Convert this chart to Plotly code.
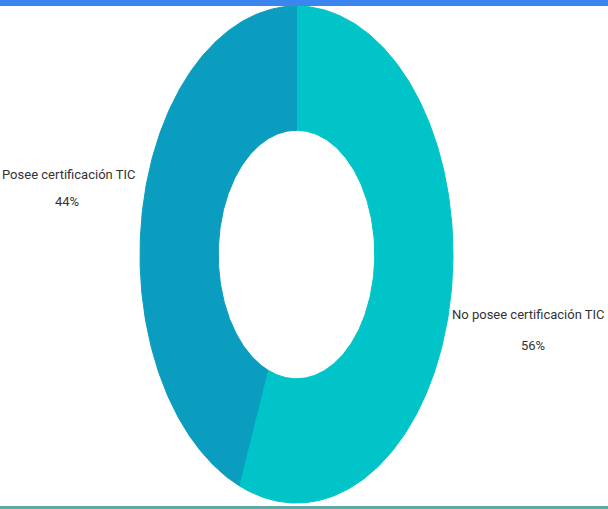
import numpy as np
import plotly.graph_objects as go

# Data
labels = ["No posee certificación TIC", "Posee certificación TIC"]
values = [56, 44]
colors = ["#00c4c8", "#0a9dbf"]

W, H = 608, 509
hole = 0.5

# Pixel geometry of the (horizontally squeezed) donut in the reference
cx_px, cy_px = 296.5, 254.5
rx_px, ry_px = 156.5, 248.5

fig = go.Figure()

total = sum(values)
cum = 0.0
for lab, val, col in zip(labels, values, colors):
    f0 = cum / total
    f1 = (cum + val) / total
    cum += val
    t = np.linspace(f0, f1, 200)
    theta = np.pi / 2 - 2 * np.pi * t
    xo, yo = np.cos(theta), np.sin(theta)
    xi, yi = hole * xo[::-1], hole * yo[::-1]
    xs = np.concatenate([xo, xi, xo[:1]])
    ys = np.concatenate([yo, yi, yo[:1]])
    fig.add_trace(go.Scatter(
        x=xs, y=ys, mode="lines", fill="toself",
        fillcolor=col, line=dict(color=col, width=1),
        name=lab, hoverinfo="name", showlegend=False,
    ))

# axis ranges so that unit radius maps to the ellipse in pixels
xr = [-cx_px / rx_px, (W - cx_px) / rx_px]
yr = [-(H - cy_px) / ry_px, cy_px / ry_px]

font_fam = "Roboto, Liberation Sans, sans-serif"
tcol = "#333333"
fs = 13

pct = [f"{round(v / total * 100)}%" for v in values]

def ann(text, px, py, xanchor="center"):
    return dict(text=text, x=px / W, y=1 - py / H, xref="paper", yref="paper",
                xanchor=xanchor, yanchor="middle", showarrow=False,
                font=dict(family=font_fam, size=fs, color=tcol))

annotations = [
    ann(labels[1], 68, 174),
    ann(pct[1], 67, 201),
    ann(labels[0], 607, 314, xanchor="right"),
    ann(pct[0], 533, 345),
]

shapes = [
    dict(type="rect", xref="paper", yref="paper", x0=0, x1=1, y0=1 - 6 / H, y1=1,
         fillcolor="#3a86ee", line=dict(width=0), layer="above"),
    dict(type="rect", xref="paper", yref="paper", x0=0, x1=1, y0=0, y1=3 / H,
         fillcolor="#5ea8a5", line=dict(width=0), layer="above"),
]

fig.update_layout(
    width=W, height=H,
    margin=dict(l=0, r=0, t=0, b=0),
    paper_bgcolor="white", plot_bgcolor="white",
    xaxis=dict(range=xr, visible=False, fixedrange=True),
    yaxis=dict(range=yr, visible=False, fixedrange=True),
    annotations=annotations,
    shapes=shapes,
    showlegend=False,
)

fig.write_html("out.html", config={"displayModeBar": False},
               post_script="document.body.style.margin='0';document.body.style.overflow='hidden';")
